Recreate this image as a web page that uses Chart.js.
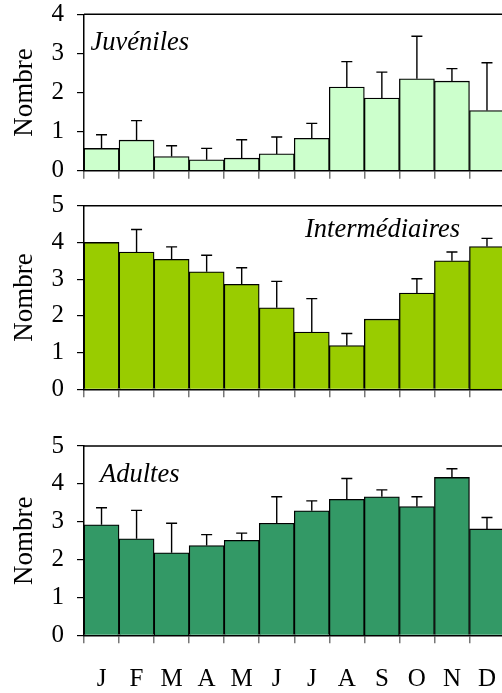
<!DOCTYPE html>
<html><head><meta charset="utf-8">
<script src="https://cdn.jsdelivr.net/npm/chart.js@4/dist/chart.umd.min.js"></script>
<style>
html,body{margin:0;padding:0;background:#fff;width:502px;height:693px;overflow:hidden;position:relative;}
.p{position:absolute;left:0;}
</style></head><body>
<div class="p" id="w1" style="top:-10px;width:520px;height:195px"><canvas id="c1"></canvas></div>
<div class="p" id="w2" style="top:180px;width:520px;height:230px"><canvas id="c2"></canvas></div>
<div class="p" id="w3" style="top:420px;width:520px;height:273px"><canvas id="c3"></canvas></div>
<script>
const months = ['J','F','M','A','M','J','J','A','S','O','N','D'];
const yTitle = 'Nombre';

const juvLabel = 'Juvéniles';
const juvValues = [0.57, 0.78, 0.36, 0.28, 0.32, 0.43, 0.83, 2.14, 1.86, 2.35, 2.29, 1.54];
const juvErrTop = [0.92, 1.28, 0.64, 0.57, 0.79, 0.86, 1.21, 2.79, 2.52, 3.44, 2.61, 2.76];

const intLabel = 'Intermédiaires';
const intValues = [4.00, 3.74, 3.54, 3.20, 2.86, 2.22, 1.56, 1.19, 1.91, 2.62, 3.50, 3.89];
const intErrTop = [null, 4.35, 3.88, 3.65, 3.31, 2.94, 2.47, 1.52, null, 3.01, 3.74, 4.11];

const adLabel = 'Adultes';
const adValues = [2.92, 2.55, 2.18, 2.37, 2.51, 2.96, 3.29, 3.59, 3.66, 3.40, 4.17, 2.81];
const adErrTop = [3.37, 3.30, 2.96, 2.66, 2.70, 3.66, 3.55, 4.14, 3.84, 3.66, 4.40, 3.11];

const SERIF = "'Liberation Serif', 'DejaVu Serif', serif";

const extrasPlugin = {
  id: 'extras',
  afterDatasetsDraw(chart, args, opts) {
    const ctx = chart.ctx;
    const meta = chart.getDatasetMeta(0);
    const ys = chart.scales.y;
    const ca = chart.chartArea;
    ctx.save();
    ctx.strokeStyle = '#000';
    ctx.lineWidth = 1.4;
    opts.err.forEach((e, i) => {
      if (e == null) return;
      const bar = meta.data[i];
      const yTop = ys.getPixelForValue(e);
      const yBar = ys.getPixelForValue(opts.values[i]);
      ctx.beginPath();
      ctx.moveTo(bar.x, yBar);
      ctx.lineTo(bar.x, yTop);
      ctx.moveTo(bar.x - 5.5, yTop);
      ctx.lineTo(bar.x + 5.5, yTop);
      ctx.stroke();
    });
    ctx.lineWidth = 1.5;
    ctx.beginPath();
    ctx.moveTo(ca.left, ca.top);
    ctx.lineTo(ca.right, ca.top);
    ctx.lineTo(ca.right, ca.bottom);
    ctx.stroke();
    ctx.fillStyle = '#000';
    ctx.font = 'italic 26.5px ' + SERIF;
    ctx.textAlign = 'left';
    ctx.textBaseline = 'alphabetic';
    ctx.fillText(opts.label, ca.left + opts.lx, ca.top + opts.ly);
    ctx.restore();
  }
};

function makeChart(id, values, err, color, ymax, label, lx, ly, padTop, xHeight, showMonths) {
  return new Chart(document.getElementById(id), {
    type: 'bar',
    data: {
      labels: months,
      datasets: [{
        data: values,
        backgroundColor: color,
        borderColor: '#000',
        borderWidth: 1.3,
        categoryPercentage: 1,
        barPercentage: 1
      }]
    },
    options: {
      responsive: true,
      maintainAspectRatio: false,
      animation: false,
      events: [],
      layout: { padding: { top: padTop, right: 15.5, left: 0, bottom: 0 } },
      plugins: {
        legend: { display: false },
        tooltip: { enabled: false },
        extras: { err: err, values: values, label: label, lx: lx, ly: ly }
      },
      scales: {
        x: {
          offset: true,
          grid: { offset: true, drawOnChartArea: false, tickLength: 8, tickColor: '#777', lineWidth: 1.5 },
          border: { color: '#000', width: 1.5 },
          ticks: { display: showMonths, color: '#000', font: { family: SERIF, size: 25 }, padding: 21, maxRotation: 0, autoSkip: false },
          afterFit(s) { s.height = xHeight; s.paddingLeft = 0; s.paddingRight = 0; }
        },
        y: {
          min: 0, max: ymax,
          ticks: { stepSize: 1, color: '#000', font: { family: SERIF, size: 25 }, padding: 13 },
          grid: { drawOnChartArea: false, tickLength: 7, tickColor: '#000', lineWidth: 1.2 },
          border: { color: '#000', width: 1.5 },
          title: { display: true, text: yTitle, color: '#000', font: { family: SERIF, size: 27 }, padding: { top: 9, bottom: 0 } },
          afterFit(s) { s.width = 84; s.paddingTop = 0; s.paddingBottom = 0; }
        }
      }
    },
    plugins: [extrasPlugin]
  });
}

makeChart('c1', juvValues, juvErrTop, '#ccffcc', 4, juvLabel, 6.5, 36, 24.3, 14.3, false);
makeChart('c2', intValues, intErrTop, '#99cc00', 5, intLabel, 221, 31, 25.7, 20.7, false);
makeChart('c3', adValues, adErrTop, '#339966', 5, adLabel, 16, 36, 26, 57.7, true);
</script>
</body></html>
